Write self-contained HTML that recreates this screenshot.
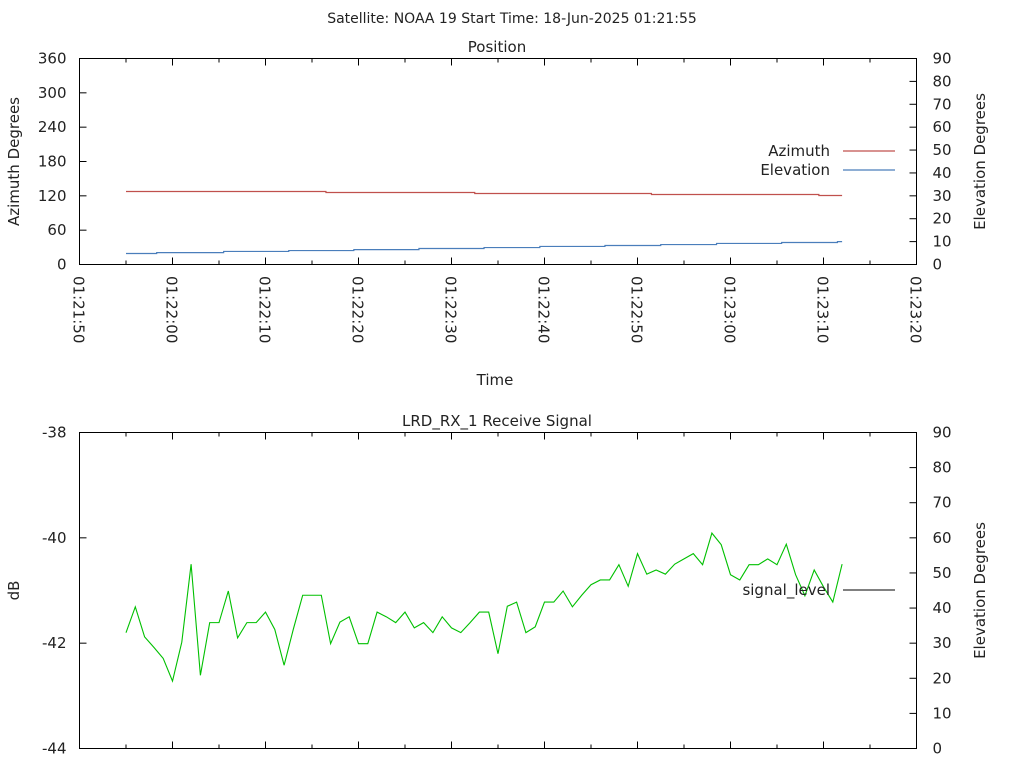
<!DOCTYPE html>
<html><head><meta charset="utf-8"><style>
html,body{margin:0;padding:0;background:#fff;}
svg{display:block;font-family:"DejaVu Sans","Liberation Sans",sans-serif;font-size:14px;fill:#222;}
</style></head><body>
<svg id="chart" width="1024" height="768" xmlns="http://www.w3.org/2000/svg">
<text x="512" y="23" text-anchor="middle">Satellite: NOAA 19    Start Time: 18-Jun-2025 01:21:55</text>
<g id="top"></g>
<g id="bot"></g>
</svg>
<script>
// time offsets in seconds from 01:21:50
const xTickLabels = ["01:21:50","01:22:00","01:22:10","01:22:20","01:22:30","01:22:40","01:22:50","01:23:00","01:23:10","01:23:20"];
const azTickLabels = [0,60,120,180,240,300,360];
const elTickLabels = [0,10,20,30,40,50,60,70,80,90];
const dbTickLabels = [-44,-42,-40,-38];
// azimuth step samples
const azTimes = [5,26.5,42.5,61.5,79.5];
const azValues = [127.6,125.8,124.1,122.3,120.6];
const elTimes = [5,8.3,15.5,22.5,29.5,36.5,43.5,49.5,56.5,62.5,68.5,75.5,81.5];
const elValues = [4.8,5.2,5.7,6.1,6.5,7.0,7.4,7.9,8.3,8.7,9.2,9.6,10.0];
const trackEnd = 82;
// signal samples, one per second starting at t=5
const sigStart = 5;
const signalLevel = [-41.80,-41.31,-41.88,-42.08,-42.29,-42.72,-41.98,-40.50,-42.61,-41.61,-41.61,-41.01,-41.90,-41.61,-41.61,-41.41,-41.74,-42.42,-41.73,-41.09,-41.09,-41.09,-42.01,-41.60,-41.50,-42.01,-42.01,-41.41,-41.50,-41.61,-41.41,-41.71,-41.61,-41.80,-41.50,-41.71,-41.80,-41.61,-41.41,-41.41,-42.20,-41.30,-41.22,-41.80,-41.69,-41.22,-41.22,-41.01,-41.31,-41.09,-40.89,-40.80,-40.80,-40.51,-40.92,-40.30,-40.69,-40.61,-40.69,-40.50,-40.40,-40.30,-40.51,-39.91,-40.13,-40.70,-40.80,-40.51,-40.51,-40.40,-40.51,-40.12,-40.70,-41.10,-40.61,-40.93,-41.22,-40.50];

const NS="http://www.w3.org/2000/svg";
function mk(parent,tag,attrs,text){const e=document.createElementNS(NS,tag);for(const k in attrs)e.setAttribute(k,attrs[k]);if(text!==undefined)e.textContent=text;parent.appendChild(e);return e;}
const L=79.5,R=916.5;
const xs=t=>L+(t/90)*(R-L);

function panel(g,T,B,yl,yr,ylMin,ylMax,yrMin,yrMax,ylTicks,yrTicks){
  const yL=v=>B-(v-ylMin)/(ylMax-ylMin)*(B-T);
  const yR=v=>B-(v-yrMin)/(yrMax-yrMin)*(B-T);
  const f=mk(g,'rect',{x:L,y:T,width:R-L,height:B-T,fill:'none',stroke:'#000','stroke-width':1});
  
  
  for(let s=0;s<=90;s+=5){
    const x=xs(s),len=(s%10===0)?7:4;
    const a=mk(g,'line',{x1:x,y1:B,x2:x,y2:B-len,stroke:'#000'});
    
    
    const b=mk(g,'line',{x1:x,y1:T,x2:x,y2:T+len,stroke:'#000'});
    
    
  }
  ylTicks.forEach(v=>{const y=yL(v);
    const l=mk(g,'line',{x1:L,y1:y,x2:L+7,y2:y,stroke:'#000'});
    
    
    const t=mk(g,'text',{x:L-13,y:y+5,'text-anchor':'end','font-size':'15'},String(v));
    
    });
  yrTicks.forEach(v=>{const y=yR(v);
    const l=mk(g,'line',{x1:R,y1:y,x2:R-7,y2:y,stroke:'#000'});
    
    
    const t=mk(g,'text',{x:R+16,y:y+5,'font-size':'15'},String(v));
    
    });
  const a=mk(g,'text',{x:0,y:0,'text-anchor':'middle','font-size':'15',transform:`translate(19,${(T+B)/2}) rotate(-90)`},yl);
  
  
  const b=mk(g,'text',{x:0,y:0,'text-anchor':'middle','font-size':'15',transform:`translate(985,${(T+B)/2}) rotate(-90)`},yr);
  
  
  return {yL,yR};
}
function stepPath(times,vals,end,sc){let d='';times.forEach((t,i)=>{const t2=i<times.length-1?times[i+1]:end;const y=sc(vals[i]);d+=(i===0?'M':'L')+xs(t)+','+y+' L'+xs(t2)+','+y+' ';});return d;}

// top panel
const gt=document.getElementById('top');
const T1=58.5,B1=264.5;
const s1=panel(gt,T1,B1,'Azimuth Degrees','Elevation Degrees',0,360,0,90,azTickLabels,elTickLabels);
let tt=mk(gt,'text',{x:497,y:52,'text-anchor':'middle','font-size':'15'},'Position');


xTickLabels.forEach((lab,i)=>{const x=xs(i*10);
  const t=mk(gt,'text',{x:0,y:0,'font-size':'15',transform:`translate(${x-6},${276}) rotate(90)`},lab);
  
  });
tt=mk(gt,'text',{x:495,y:385,'text-anchor':'middle','font-size':'15'},'Time');


let p=mk(gt,'path',{d:stepPath(azTimes,azValues,trackEnd,s1.yL),fill:'none',stroke:'#c0504d','stroke-width':1.2});


p=mk(gt,'path',{d:stepPath(elTimes,elValues,trackEnd,s1.yR),fill:'none',stroke:'#4a7ebb','stroke-width':1.2});


let lg=mk(gt,'text',{x:830,y:156,'text-anchor':'end','font-size':'15'},'Azimuth');


lg=mk(gt,'line',{x1:843,y1:151,x2:895,y2:151,stroke:'#c0504d','stroke-width':1.2});


lg=mk(gt,'text',{x:830,y:175,'text-anchor':'end','font-size':'15'},'Elevation');


lg=mk(gt,'line',{x1:843,y1:170,x2:895,y2:170,stroke:'#4a7ebb','stroke-width':1.2});



// bottom panel
const gb=document.getElementById('bot');
const T2=432.5,B2=748.5;
const s2=panel(gb,T2,B2,'dB','Elevation Degrees',-44,-38,0,90,dbTickLabels,elTickLabels);
tt=mk(gb,'text',{x:497,y:426,'text-anchor':'middle','font-size':'15'},'LRD_RX_1 Receive Signal');


let d='';signalLevel.forEach((v,i)=>{d+=(i?'L':'M')+xs(sigStart+i)+','+s2.yL(v)+' ';});
p=mk(gb,'path',{d:d,fill:'none',stroke:'#00c000','stroke-width':1.1});


lg=mk(gb,'text',{x:830,y:595,'text-anchor':'end','font-size':'15'},'signal_level');


lg=mk(gb,'line',{x1:843,y1:590,x2:895,y2:590,stroke:'#000','stroke-width':1.1});


</script>
</body></html>
